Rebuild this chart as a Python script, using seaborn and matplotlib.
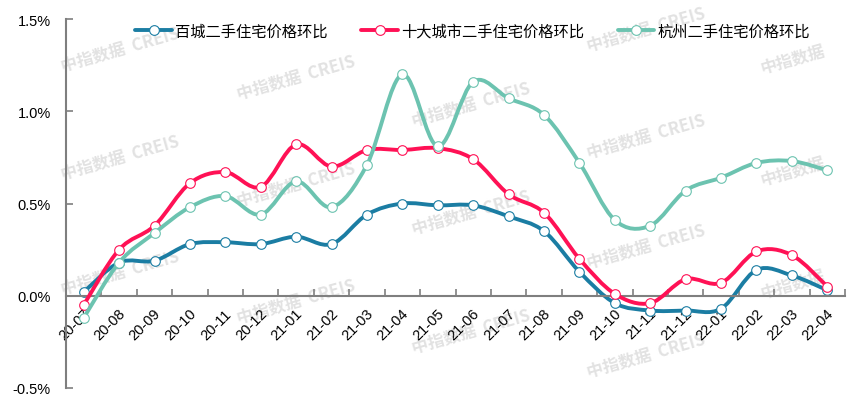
import matplotlib
matplotlib.use("Agg")
import matplotlib.pyplot as plt
from matplotlib.path import Path
from matplotlib.patches import PathPatch
from matplotlib.lines import Line2D
import matplotlib.transforms as mtransforms
import seaborn as sns
import pandas as pd
import numpy as np

# data (month-on-month change, %)
months = ['20-07', '20-08', '20-09', '20-10', '20-11', '20-12',
          '21-01', '21-02', '21-03', '21-04', '21-05', '21-06',
          '21-07', '21-08', '21-09', '21-10', '21-11', '21-12',
          '22-01', '22-02', '22-03', '22-04']
series_names = ['百城二手住宅价格环比', '十大城市二手住宅价格环比', '杭州二手住宅价格环比']
baicheng = [0.02, 0.18, 0.19, 0.28, 0.29, 0.28, 0.32, 0.28, 0.44, 0.50, 0.49,
            0.49, 0.43, 0.35, 0.13, -0.04, -0.08, -0.08, -0.07, 0.14, 0.11, 0.03]
top10 = [-0.05, 0.25, 0.38, 0.61, 0.67, 0.59, 0.82, 0.70, 0.79, 0.79, 0.80,
         0.74, 0.55, 0.45, 0.20, 0.01, -0.04, 0.09, 0.07, 0.24, 0.22, 0.05]
hangzhou = [-0.12, 0.18, 0.34, 0.48, 0.54, 0.44, 0.62, 0.48, 0.71, 1.20, 0.81,
            1.16, 1.07, 0.98, 0.72, 0.41, 0.38, 0.57, 0.64, 0.72, 0.73, 0.68]
yticks = [-0.5, 0.0, 0.5, 1.0, 1.5]

colors = ['#1b7da3', '#ff1155', '#6cc3b0']

sns.set_theme(style="white")
plt.rcParams['font.family'] = ['Liberation Sans', 'Noto Sans CJK SC', 'DejaVu Sans']
plt.rcParams['text.color'] = 'black'
plt.rcParams['xtick.labelcolor'] = 'black'
plt.rcParams['ytick.labelcolor'] = 'black'
CJK = ['Noto Sans CJK SC', 'DejaVu Sans']


def smooth_path(x, y):
    # Excel-style smoothed line: cubic bezier through every data point
    verts = [(x[0], y[0])]
    codes = [Path.MOVETO]
    n = len(x)
    for i in range(n - 1):
        a = max(i - 1, 0)
        b = min(i + 2, n - 1)
        c1 = (x[i] + (x[i + 1] - x[a]) / 6, y[i] + (y[i + 1] - y[a]) / 6)
        c2 = (x[i + 1] - (x[b] - x[i]) / 6, y[i + 1] - (y[b] - y[i]) / 6)
        verts += [c1, c2, (x[i + 1], y[i + 1])]
        codes += [Path.CURVE4] * 3
    return Path(verts, codes)


df = pd.DataFrame({'month': months * 3,
                   'pos': list(range(len(months))) * 3,
                   'value': baicheng + top10 + hangzhou,
                   'series': [s for s in series_names for _ in months]})

fig = plt.figure(figsize=(8.52, 4.06), dpi=100)
ax = fig.add_axes([66 / 852, 1 - 389 / 406, 779 / 852, 369 / 406])

# watermark
marks = [(120, 50), (120, 158), (120, 273), (296, 78), (296, 185), (296, 302),
         (471, 105), (471, 213), (471, 332), (646, 30), (646, 137), (646, 247),
         (646, 356)]
for px, py in marks:
    ax.text(px / 852, 1 - py / 406, '中指数据  CREIS', transform=fig.transFigure,
            rotation=16, ha='center', va='center', fontsize=12, fontweight='bold',
            color='#e2e2e2', family=CJK, zorder=0.5)
for px, py in [(793, 60), (793, 172), (793, 285)]:
    ax.text(px / 852, 1 - py / 406, '中指数据', transform=fig.transFigure,
            rotation=16, ha='center', va='center', fontsize=12, fontweight='bold',
            color='#e2e2e2', family=CJK, zorder=0.5)

for k, name in enumerate(series_names):
    sub = df[df['series'] == name]
    patch = PathPatch(smooth_path(sub['pos'].to_numpy(float), sub['value'].to_numpy(float)),
                      fill=False, edgecolor=colors[k], linewidth=2.8,
                      capstyle='round', joinstyle='round', zorder=2 + k)
    ax.add_patch(patch)
    sns.scatterplot(data=sub, x='pos', y='value', ax=ax, s=48, color='white',
                    edgecolor=colors[k], linewidth=0.8, zorder=2.5 + k, legend=False)

ax.set_xlim(-0.5, len(months) - 0.5)
ax.set_ylim(-0.5, 1.5)
ax.set_xlabel('')
ax.set_ylabel('')

for side in ['top', 'right']:
    ax.spines[side].set_visible(False)
ax.spines['bottom'].set_position(('data', 0))
for side in ['left', 'bottom']:
    ax.spines[side].set_color('#7f7f7f')
    ax.spines[side].set_linewidth(1.5)

ax.set_yticks(yticks)
ax.set_yticklabels([f'{v:.1f}%' for v in yticks])
ax.tick_params(axis='y', direction='in', length=5, width=1.2, color='#7f7f7f',
               labelsize=10.5, pad=11, left=True, labelcolor='black')

ax.set_xticks(range(len(months)))
ax.set_xticklabels(months, rotation=45, ha='right', va='center', rotation_mode='anchor')
ax.set_xticks(np.arange(-0.5, len(months), 1), minor=True)
ax.tick_params(axis='x', which='major', length=0, labelsize=10.5, pad=11,
               labelcolor='black')
ax.tick_params(axis='x', which='minor', direction='in', length=5, width=1.2,
               color='#7f7f7f', bottom=True)
shift = mtransforms.ScaledTranslation(4 / 100, 0, fig.dpi_scale_trans)
for lbl in ax.get_xticklabels():
    lbl.set_transform(lbl.get_transform() + shift)

handles = [Line2D([0], [0], color=c, linewidth=2.8, marker='o', markersize=7,
                  markerfacecolor='white', markeredgecolor=c, markeredgewidth=0.8)
           for c in colors]
leg = ax.legend(handles, series_names, loc='center', bbox_to_anchor=(0.522, 0.967),
                ncol=3, frameon=False, handlelength=2.4, handletextpad=0.2,
                columnspacing=2.2, prop={'family': CJK, 'size': 11})
for t in leg.get_texts():
    t.set_color('black')
leg.set_zorder(10)

fig.savefig('out.png', dpi=100, facecolor='white')
